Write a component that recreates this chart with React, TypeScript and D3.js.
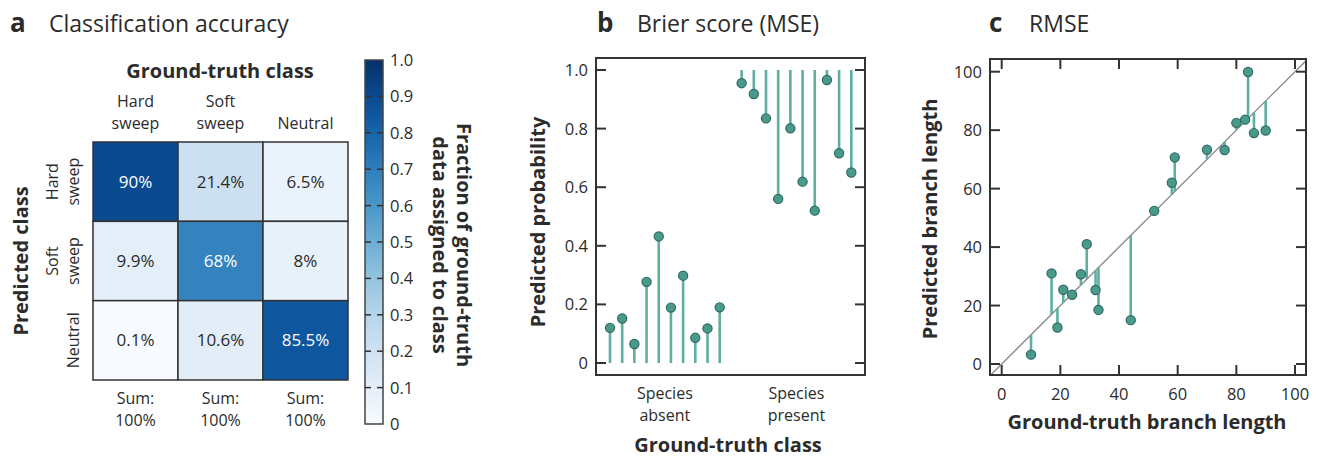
import React from "react";
import * as d3 from "d3";

// ---------- Panel a data ----------
const truthClasses = ["Hard\nsweep", "Soft\nsweep", "Neutral"];
const predClasses = ["Hard\nsweep", "Soft\nsweep", "Neutral"];
// rows = predicted, columns = ground truth (fractions)
const confusion = [
  [0.9, 0.214, 0.065],
  [0.099, 0.68, 0.08],
  [0.001, 0.106, 0.855],
];
const confusionLabels = [
  ["90%", "21.4%", "6.5%"],
  ["9.9%", "68%", "8%"],
  ["0.1%", "10.6%", "85.5%"],
];
const colorbarTicks = [0, 0.1, 0.2, 0.3, 0.4, 0.5, 0.6, 0.7, 0.8, 0.9, 1.0];

// ---------- Panel b data ----------
const absentProbs = [0.12, 0.152, 0.065, 0.277, 0.432, 0.189, 0.298, 0.086, 0.118, 0.19];
const presentProbs = [0.955, 0.918, 0.835, 0.56, 0.801, 0.619, 0.52, 0.966, 0.716, 0.65];
const brierTicks = [0, 0.2, 0.4, 0.6, 0.8, 1.0];
const brierGroups = ["Species\nabsent", "Species\npresent"];

// ---------- Panel c data ----------
const truthLengths = [10, 17, 19, 21, 24, 27, 29, 32, 33, 44, 52, 58, 59, 70, 76, 80, 83, 84, 86, 90];
const predLengths = [3.2, 31, 12.5, 25.4, 23.7, 30.7, 41, 25.3, 18.5, 15, 52.4, 62, 70.7, 73.3, 73.2, 82.5, 83.6, 99.9, 79, 79.9];
const rmseTicks = [0, 20, 40, 60, 80, 100];

const FONT = "'Open Sans', 'Noto Sans', sans-serif";
const DARK = "#2b2b2b";
const STEM = "#5fae9f";
const DOT_FILL = "#4a9a8b";
const DOT_STROKE = "#2e6b63";
const TICK_FS = 16.5;
const LABEL_FS = 16;
const BOLD_FS = 20;
const TITLE_FS = 23;

function PanelA() {
  const x = d3.scaleBand<number>().domain([0, 1, 2]).range([93, 348]);
  const y = d3.scaleBand<number>().domain([0, 1, 2]).range([142, 380]);
  const color = (v: number) => d3.interpolateBlues(v);
  const cb = d3.scaleLinear().domain([0, 1]).range([424, 60]);
  const cbX0 = 365;
  const cbX1 = 383;
  const stops = d3.range(0, 1.0001, 0.05);
  return (
    <g fontFamily={FONT} fill={DARK}>
      <defs>
        <linearGradient id="cbgrad" x1="0" y1="1" x2="0" y2="0">
          {stops.map((s) => (
            <stop key={s} offset={`${s * 100}%`} stopColor={color(s)} />
          ))}
        </linearGradient>
      </defs>
      <text x={10} y={32} fontSize={26} fontWeight={700}>a</text>
      <text x={49} y={32} fontSize={TITLE_FS}>Classification accuracy</text>
      <text x={220} y={78} fontSize={BOLD_FS} fontWeight={700} textAnchor="middle">Ground-truth class</text>
      {truthClasses.map((c, i) => {
        const lines = c.split("\n");
        const cx = x(i)! + x.bandwidth() / 2;
        return (
          <text key={i} x={cx} textAnchor="middle" fontSize={LABEL_FS}>
            {lines.length === 2 ? (
              <>
                <tspan x={cx} y={107}>{lines[0]}</tspan>
                <tspan x={cx} y={129}>{lines[1]}</tspan>
              </>
            ) : (
              <tspan x={cx} y={129}>{lines[0]}</tspan>
            )}
          </text>
        );
      })}
      {predClasses.map((c, i) => {
        const lines = c.split("\n");
        const cy = y(i)! + y.bandwidth() / 2;
        return (
          <g key={i} transform={`translate(0,${cy}) rotate(-90)`}>
            {lines.length === 2 ? (
              <>
                <text x={0} y={58} textAnchor="middle" fontSize={LABEL_FS}>{lines[0]}</text>
                <text x={0} y={79} textAnchor="middle" fontSize={LABEL_FS}>{lines[1]}</text>
              </>
            ) : (
              <text x={0} y={79} textAnchor="middle" fontSize={LABEL_FS}>{lines[0]}</text>
            )}
          </g>
        );
      })}
      <text transform={`translate(28,261) rotate(-90)`} textAnchor="middle" fontSize={BOLD_FS} fontWeight={700}>Predicted class</text>
      {confusion.map((row, r) =>
        row.map((v, c) => (
          <g key={`${r}-${c}`}>
            <rect x={x(c)} y={y(r)} width={x.bandwidth()} height={y.bandwidth()} fill={color(v)} stroke="#333" strokeWidth={1.5} />
            <text
              x={x(c)! + x.bandwidth() / 2}
              y={y(r)! + y.bandwidth() / 2 + 6}
              textAnchor="middle"
              fontSize={17}
              fill={v > 0.5 ? "#ffffff" : DARK}
            >
              {confusionLabels[r][c]}
            </text>
          </g>
        ))
      )}
      {truthClasses.map((_, i) => {
        const cx = x(i)! + x.bandwidth() / 2;
        return (
          <text key={i} textAnchor="middle" fontSize={LABEL_FS}>
            <tspan x={cx} y={404}>Sum:</tspan>
            <tspan x={cx} y={426}>100%</tspan>
          </text>
        );
      })}
      {/* colorbar */}
      <rect x={cbX0} y={cb(1)} width={cbX1 - cbX0} height={cb(0) - cb(1)} fill="url(#cbgrad)" stroke="#444" strokeWidth={1.5} />
      {colorbarTicks.map((t) => (
        <g key={t}>
          {t > 0 && t < 1 && (
            <>
              <line x1={cbX0} x2={cbX0 + 6} y1={cb(t)} y2={cb(t)} stroke="#333" strokeWidth={1.5} />
              <line x1={cbX1 - 6} x2={cbX1} y1={cb(t)} y2={cb(t)} stroke="#333" strokeWidth={1.5} />
            </>
          )}
          <text x={390} y={cb(t) + 6} fontSize={TICK_FS}>{t === 0 ? "0" : t.toFixed(1)}</text>
        </g>
      ))}
      <g transform="translate(0,245) rotate(90)">
        <text x={0} y={-457} textAnchor="middle" fontSize={BOLD_FS} fontWeight={700}>Fraction of ground-truth</text>
        <text x={0} y={-433} textAnchor="middle" fontSize={BOLD_FS} fontWeight={700}>data assigned to class</text>
      </g>
    </g>
  );
}

function PanelB() {
  const box = { x0: 596, x1: 865, y0: 58, y1: 375 };
  const y = d3.scaleLinear().domain([0, 1]).range([363, 70]);
  const x = d3.scaleLinear().domain([0, 19.8]).range([610, 851.3]);
  const absentX = absentProbs.map((_, i) => i);
  const presentX = presentProbs.map((_, i) => 10.8 + i);
  const groupCenters = [x(4.5), x(10.8 + 4.5)];
  return (
    <g fontFamily={FONT} fill={DARK}>
      <text x={597} y={32} fontSize={26} fontWeight={700}>b</text>
      <text x={637} y={32} fontSize={TITLE_FS}>Brier score (MSE)</text>
      <rect x={box.x0} y={box.y0} width={box.x1 - box.x0} height={box.y1 - box.y0} fill="none" stroke="#333" strokeWidth={2} />
      {brierTicks.map((t) => (
        <g key={t}>
          <line x1={box.x0} x2={box.x0 + 10} y1={y(t)} y2={y(t)} stroke="#333" strokeWidth={2} />
          <line x1={box.x1 - 10} x2={box.x1} y1={y(t)} y2={y(t)} stroke="#333" strokeWidth={2} />
          <text x={588} y={y(t) + 6} textAnchor="end" fontSize={TICK_FS}>{t === 0 ? "0" : t.toFixed(1)}</text>
        </g>
      ))}
      {absentProbs.map((v, i) => (
        <line key={`as${i}`} x1={x(absentX[i])} x2={x(absentX[i])} y1={y(0)} y2={y(v)} stroke={STEM} strokeWidth={2.6} />
      ))}
      {presentProbs.map((v, i) => (
        <line key={`ps${i}`} x1={x(presentX[i])} x2={x(presentX[i])} y1={y(1)} y2={y(v)} stroke={STEM} strokeWidth={2.6} />
      ))}
      {absentProbs.map((v, i) => (
        <circle key={`ad${i}`} cx={x(absentX[i])} cy={y(v)} r={4.6} fill={DOT_FILL} stroke={DOT_STROKE} strokeWidth={1.2} />
      ))}
      {presentProbs.map((v, i) => (
        <circle key={`pd${i}`} cx={x(presentX[i])} cy={y(v)} r={4.6} fill={DOT_FILL} stroke={DOT_STROKE} strokeWidth={1.2} />
      ))}
      {brierGroups.map((g, i) => {
        const [l1, l2] = g.split("\n");
        return (
          <text key={g} textAnchor="middle" fontSize={LABEL_FS}>
            <tspan x={groupCenters[i]} y={399}>{l1}</tspan>
            <tspan x={groupCenters[i]} y={421}>{l2}</tspan>
          </text>
        );
      })}
      <text x={728} y={452} textAnchor="middle" fontSize={BOLD_FS} fontWeight={700}>Ground-truth class</text>
      <text transform={`translate(545,222) rotate(-90)`} textAnchor="middle" fontSize={BOLD_FS} fontWeight={700}>Predicted probability</text>
    </g>
  );
}

function PanelC() {
  const box = { x0: 990, x1: 1306, y0: 59, y1: 375 };
  const x = d3.scaleLinear().domain([0, 100]).range([1001.7, 1295]);
  const y = d3.scaleLinear().domain([0, 100]).range([364, 71.7]);
  const dMin = x.invert(box.x0);
  const dMax = x.invert(box.x1);
  return (
    <g fontFamily={FONT} fill={DARK}>
      <defs>
        <clipPath id="cclip">
          <rect x={box.x0} y={box.y0} width={box.x1 - box.x0} height={box.y1 - box.y0} />
        </clipPath>
      </defs>
      <text x={989} y={32} fontSize={26} fontWeight={700}>c</text>
      <text x={1029} y={32} fontSize={TITLE_FS}>RMSE</text>
      <line clipPath="url(#cclip)" x1={x(dMin)} y1={y(dMin)} x2={x(dMax)} y2={y(dMax)} stroke="#8a8a8a" strokeWidth={1.4} />
      <rect x={box.x0} y={box.y0} width={box.x1 - box.x0} height={box.y1 - box.y0} fill="none" stroke="#333" strokeWidth={2} />
      {rmseTicks.map((t) => (
        <g key={t}>
          <line x1={box.x0} x2={box.x0 + 10} y1={y(t)} y2={y(t)} stroke="#333" strokeWidth={2} />
          <line x1={box.x1 - 10} x2={box.x1} y1={y(t)} y2={y(t)} stroke="#333" strokeWidth={2} />
          <line x1={x(t)} x2={x(t)} y1={box.y1} y2={box.y1 - 10} stroke="#333" strokeWidth={2} />
          <line x1={x(t)} x2={x(t)} y1={box.y0} y2={box.y0 + 10} stroke="#333" strokeWidth={2} />
          <text x={982} y={y(t) + 6} textAnchor="end" fontSize={TICK_FS}>{t}</text>
          <text x={x(t)} y={400} textAnchor="middle" fontSize={TICK_FS}>{t}</text>
        </g>
      ))}
      {truthLengths.map((t, i) => (
        <line key={`s${i}`} x1={x(t)} x2={x(t)} y1={y(t)} y2={y(predLengths[i])} stroke={STEM} strokeWidth={2.6} />
      ))}
      {truthLengths.map((t, i) => (
        <circle key={`d${i}`} cx={x(t)} cy={y(predLengths[i])} r={4.6} fill={DOT_FILL} stroke={DOT_STROKE} strokeWidth={1.2} />
      ))}
      <text x={1147} y={429} textAnchor="middle" fontSize={BOLD_FS} fontWeight={700}>Ground-truth branch length</text>
      <text transform={`translate(937,219) rotate(-90)`} textAnchor="middle" fontSize={BOLD_FS} fontWeight={700}>Predicted branch length</text>
    </g>
  );
}

export default function App() {
  return (
    <svg width={1326} height={460} style={{ display: "block", position: "absolute", left: 0, top: 0, background: "#fff" }}>
      <rect width={1326} height={460} fill="#fff" />
      <PanelA />
      <PanelB />
      <PanelC />
    </svg>
  );
}
